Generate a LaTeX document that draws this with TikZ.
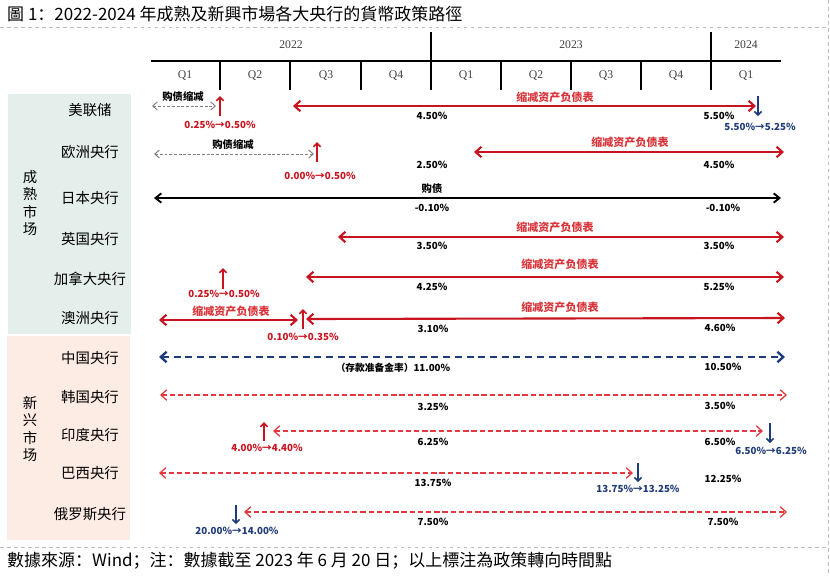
\documentclass[tikz,border=0pt]{standalone}
\usepackage{fontspec}
\setmainfont{Noto Sans CJK SC}
\newfontfamily\hdrfont{Liberation Serif}
\usetikzlibrary{arrows.meta}
\definecolor{arrred}{HTML}{C8141E}
\definecolor{lblred}{HTML}{D8343A}
\definecolor{dashred}{HTML}{E03A40}
\definecolor{navy}{HTML}{1F3C7A}
\definecolor{greypanel}{HTML}{E4EFEC}
\definecolor{peachpanel}{HTML}{FDECE3}
\definecolor{framegrey}{HTML}{BDBDBD}
\tikzset{
  px/.style={x=0.03cm,y=-0.03cm},
  val/.style={font=\bfseries\fontsize{8.3}{9}\selectfont,text=black,inner sep=0},
  redlbl/.style={font=\bfseries\fontsize{9.4}{10}\selectfont,text=lblred,inner sep=0},
  blklbl/.style={font=\bfseries\fontsize{8.8}{9}\selectfont,text=black,inner sep=0},
  rednote/.style={font=\bfseries\fontsize{8.3}{9}\selectfont,text=arrred,inner sep=0},
  bluenote/.style={font=\bfseries\fontsize{8.3}{9}\selectfont,text=navy,inner sep=0},
  bank/.style={font=\fontsize{12.3}{13}\selectfont,inner sep=0},
  grp/.style={font=\fontsize{12.3}{14.6}\selectfont,align=center,inner sep=0},
  hdr/.style={font=\hdrfont\fontsize{10}{11}\selectfont,text=black!75,inner sep=0},
  bigtxt/.style={font=\fontsize{14.5}{16}\selectfont,inner sep=0,anchor=west},
  gridline/.style={line width=1.3pt,black},
  frameline/.style={framegrey,dashed,line width=0.6pt},
  redsolid/.style={arrred,line width=1.8pt,{Straight Barb[length=5pt,width=9pt,line width=1.8pt]}-{Straight Barb[length=5pt,width=9pt,line width=1.8pt]}},
  blacksolid/.style={black,line width=1.6pt,{Straight Barb[length=5pt,width=8pt,line width=1.6pt]}-{Straight Barb[length=5pt,width=8pt,line width=1.6pt]}},
  greydash/.style={black!50,line width=0.8pt,dash pattern=on 2.5pt off 1.5pt,{Straight Barb[length=4pt,width=7pt,line width=0.8pt]}-{Straight Barb[length=4pt,width=7pt,line width=0.8pt]}},
  navydash/.style={navy,line width=2pt,dash pattern=on 6pt off 4pt,{Straight Barb[length=5pt,width=9pt,line width=2pt]}-{Straight Barb[length=5pt,width=9pt,line width=2pt]}},
  reddash/.style={dashred,line width=1.1pt,dash pattern=on 4.5pt off 2.5pt,{Straight Barb[length=5pt,width=9pt,line width=1.1pt]}-{Straight Barb[length=5pt,width=9pt,line width=1.1pt]}},
  uparr/.style={arrred,line width=1.5pt,-{Straight Barb[length=3pt,width=6pt,line width=1.5pt]}},
  downarr/.style={navy,line width=1.3pt,-{Straight Barb[length=3pt,width=6pt,line width=1.3pt]}},
}
\begin{document}
\begin{tikzpicture}[px]
\useasboundingbox (0,0) rectangle (830,575);
\fill[white] (0,0) rectangle (830,575);
% frame
\draw[frameline] (0,27) -- (828,27);
\draw[frameline] (0,547) -- (828,547);
\draw[frameline] (828,0) -- (828,575);
% title and source
\node[bigtxt] (title) at (7,14) {圖 1：2022-2024 年成熟及新興市場各大央行的貨幣政策路徑};
\node[bigtxt] (source) at (7,561) {數據來源：Wind；注：數據截至 2023 年 6 月 20 日；以上標注為政策轉向時間點};
% panels
\fill[greypanel] (8,94) rectangle (131,334);
\fill[peachpanel] (7,336) rectangle (130,540);
\node[grp] (mature) at (30,203) {成\\熟\\市\\场};
\node[grp] (emerging) at (30,429) {新\\兴\\市\\场};
% bank names
\node[bank] (fed) at (90,110) {美联储};
\node[bank] (ecb) at (90,152) {欧洲央行};
\node[bank] (boj) at (90,198) {日本央行};
\node[bank] (boe) at (90,239) {英国央行};
\node[bank] (boc) at (90,279) {加拿大央行};
\node[bank] (rba) at (90,318) {澳洲央行};
\node[bank] (pboc) at (90,358) {中国央行};
\node[bank] (bok) at (90,397) {韩国央行};
\node[bank] (rbi) at (90,435) {印度央行};
\node[bank] (bcb) at (90,473) {巴西央行};
\node[bank] (cbr) at (90,514) {俄罗斯央行};
% header
\draw[gridline] (151,61) -- (781,61);
\foreach \x in {431,711} \draw[gridline] (\x,32) -- (\x,90);
\foreach \x in {220,290,361,501,571,641} \draw[gridline] (\x,61) -- (\x,90);
\node[hdr] (y22) at (291,45) {2022};
\node[hdr] (y23) at (571,45) {2023};
\node[hdr] (y24) at (746,45) {2024};
\foreach \x/\q [count=\i] in {185/Q1,255/Q2,326/Q3,396/Q4,466/Q1,536/Q2,606/Q3,676/Q4,746/Q1}
  \node[hdr] (q\i) at (\x,76) {\q};
% ---- Row 1: Fed
\coordinate (f1a) at (152,106); \coordinate (f1b) at (216,106);
\draw[greydash] (f1a) -- (f1b);
\node[blklbl] (f1l) at (183,97) {购债缩减};
\coordinate (f1u0) at (220,116); \coordinate (f1u1) at (220,96);
\draw[uparr] (f1u0) -- (f1u1);
\node[rednote] (f1n) at (220,125) {0.25\%→0.50\%};
\coordinate (f2a) at (293,106); \coordinate (f2b) at (756,106);
\draw[redsolid] (f2a) -- (f2b);
\node[redlbl] (f2l) at (555,97) {缩减资产负债表};
\node[val] (f2v1) at (432,116) {4.50\%};
\node[val] (f2v2) at (719,116) {5.50\%};
\coordinate (f3d0) at (758,96); \coordinate (f3d1) at (758,116);
\draw[downarr] (f3d0) -- (f3d1);
\node[bluenote] (f3n) at (760,127) {5.50\%→5.25\%};
% ---- Row 2: ECB
\coordinate (e1a) at (154,154); \coordinate (e1b) at (314,154);
\draw[greydash] (e1a) -- (e1b);
\node[blklbl] (e1l) at (233,145) {购债缩减};
\coordinate (e1u0) at (317,162); \coordinate (e1u1) at (317,142);
\draw[uparr] (e1u0) -- (e1u1);
\node[rednote] (e1n) at (320,176) {0.00\%→0.50\%};
\coordinate (e2a) at (474,152); \coordinate (e2b) at (784,152);
\draw[redsolid] (e2a) -- (e2b);
\node[redlbl] (e2l) at (630,142) {缩减资产负债表};
\node[val] (e2v1) at (432,165) {2.50\%};
\node[val] (e2v2) at (719,165) {4.50\%};
% ---- Row 3: BOJ
\coordinate (j1a) at (154,198); \coordinate (j1b) at (781,198);
\draw[blacksolid] (j1a) -- (j1b);
\node[blklbl] (j1l) at (432,189) {购债};
\node[val] (j1v1) at (432,208) {-0.10\%};
\node[val] (j1v2) at (723,208) {-0.10\%};
% ---- Row 4: BOE
\coordinate (b1a) at (338,237); \coordinate (b1b) at (784,237);
\draw[redsolid] (b1a) -- (b1b);
\node[redlbl] (b1l) at (555,227) {缩减资产负债表};
\node[val] (b1v1) at (432,246) {3.50\%};
\node[val] (b1v2) at (719,246) {3.50\%};
% ---- Row 5: BOC
\coordinate (c1u0) at (223,289); \coordinate (c1u1) at (223,268);
\draw[uparr] (c1u0) -- (c1u1);
\node[rednote] (c1n) at (224,294) {0.25\%→0.50\%};
\coordinate (c1a) at (306,277); \coordinate (c1b) at (784,277);
\draw[redsolid] (c1a) -- (c1b);
\node[redlbl] (c1l) at (560,264) {缩减资产负债表};
\node[val] (c1v1) at (432,287) {4.25\%};
\node[val] (c1v2) at (719,287) {5.25\%};
% ---- Row 6: RBA
\coordinate (a1a) at (159,320); \coordinate (a1b) at (298,320);
\draw[redsolid] (a1a) -- (a1b);
\node[redlbl] (a1l) at (231,311) {缩减资产负债表};
\coordinate (a1u0) at (303,329); \coordinate (a1u1) at (303,309);
\draw[uparr] (a1u0) -- (a1u1);
\node[rednote] (a1n) at (303,337) {0.10\%→0.35\%};
\coordinate (a2a) at (306,319); \coordinate (a2b) at (785,318);
\draw[redsolid] (a2a) -- (a2b);
\node[redlbl] (a2l) at (560,307) {缩减资产负债表};
\node[val] (a2v1) at (433,329) {3.10\%};
\node[val] (a2v2) at (720,328) {4.60\%};
% ---- Row 7: PBOC
\coordinate (p1a) at (159,357); \coordinate (p1b) at (785,357);
\draw[navydash] (p1a) -- (p1b);
\node[val] (p1v1) at (393,368) {（存款准备金率）11.00\%};
\node[val] (p1v2) at (723,367) {10.50\%};
% ---- Row 8: BOK
\coordinate (k1a) at (160,395); \coordinate (k1b) at (787,395);
\draw[reddash] (k1a) -- (k1b);
\node[val] (k1v1) at (433,407) {3.25\%};
\node[val] (k1v2) at (720,406) {3.50\%};
% ---- Row 9: RBI
\coordinate (i1u0) at (264,441); \coordinate (i1u1) at (264,422);
\draw[uparr] (i1u0) -- (i1u1);
\node[rednote] (i1n) at (267,448) {4.00\%→4.40\%};
\coordinate (i1a) at (273,431); \coordinate (i1b) at (763,431);
\draw[reddash] (i1a) -- (i1b);
\node[val] (i1v1) at (433,442) {6.25\%};
\node[val] (i1v2) at (720,442) {6.50\%};
\coordinate (i1d0) at (770,423); \coordinate (i1d1) at (770,443);
\draw[downarr] (i1d0) -- (i1d1);
\node[bluenote] (i1m) at (771,451) {6.50\%→6.25\%};
% ---- Row 10: BCB
\coordinate (z1a) at (159,473); \coordinate (z1b) at (633,473);
\draw[reddash] (z1a) -- (z1b);
\node[val] (z1v1) at (433,483) {13.75\%};
\node[val] (z1v2) at (723,479) {12.25\%};
\coordinate (z1d0) at (638,463); \coordinate (z1d1) at (638,482);
\draw[downarr] (z1d0) -- (z1d1);
\node[bluenote] (z1n) at (638,489) {13.75\%→13.25\%};
% ---- Row 11: CBR
\coordinate (r1d0) at (236,505); \coordinate (r1d1) at (236,524);
\draw[downarr] (r1d0) -- (r1d1);
\node[bluenote] (r1n) at (237,531) {20.00\%→14.00\%};
\coordinate (r1a) at (244,512); \coordinate (r1b) at (787,512);
\draw[reddash] (r1a) -- (r1b);
\node[val] (r1v1) at (433,522) {7.50\%};
\node[val] (r1v2) at (723,522) {7.50\%};
\end{tikzpicture}
\end{document}
